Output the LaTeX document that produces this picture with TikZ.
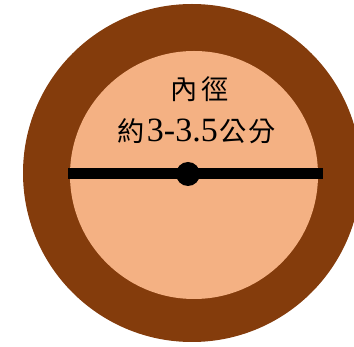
\documentclass[tikz,border=0pt]{standalone}
\usepackage{fontspec}
\setmainfont{Liberation Serif}
\newfontfamily\cjk[Scale=0.8]{Noto Sans CJK TC}
\definecolor{pipebrown}{RGB}{132,60,12}
\definecolor{pipeinner}{RGB}{244,177,131}
\begin{document}
\begin{tikzpicture}[x=1pt,y=-1pt,
    wall/.style={fill=pipebrown},
    bore/.style={fill=pipeinner},
    rod/.style={line width=11pt},
    hub/.style={circle,fill=black,inner sep=0pt,minimum size=24pt},
    tag/.style={anchor=base,inner sep=0pt,font=\fontsize{34}{40}\selectfont}]

    \useasboundingbox (0,0) rectangle (354,347);

    % pipe
    \fill [wall] (192,173) circle (169pt);
    \fill [bore] (194,175) circle (124pt);

    % diameter
    \coordinate (barL) at (68,173.5);
    \coordinate (barR) at (323,173.5);
    \draw [rod] (barL) -- (barR);
    \node [hub] (hub) at (188,174) {};

    % labels
    \node [tag] (name) at (200,100) {\cjk 內\hspace{4pt}徑};
    \node [tag] (size) at (197,142) {{\cjk 約}\hspace{2pt}3-3.5\hspace{2pt}{\cjk 公\hspace{2pt}分}};

\end{tikzpicture}
\end{document}
